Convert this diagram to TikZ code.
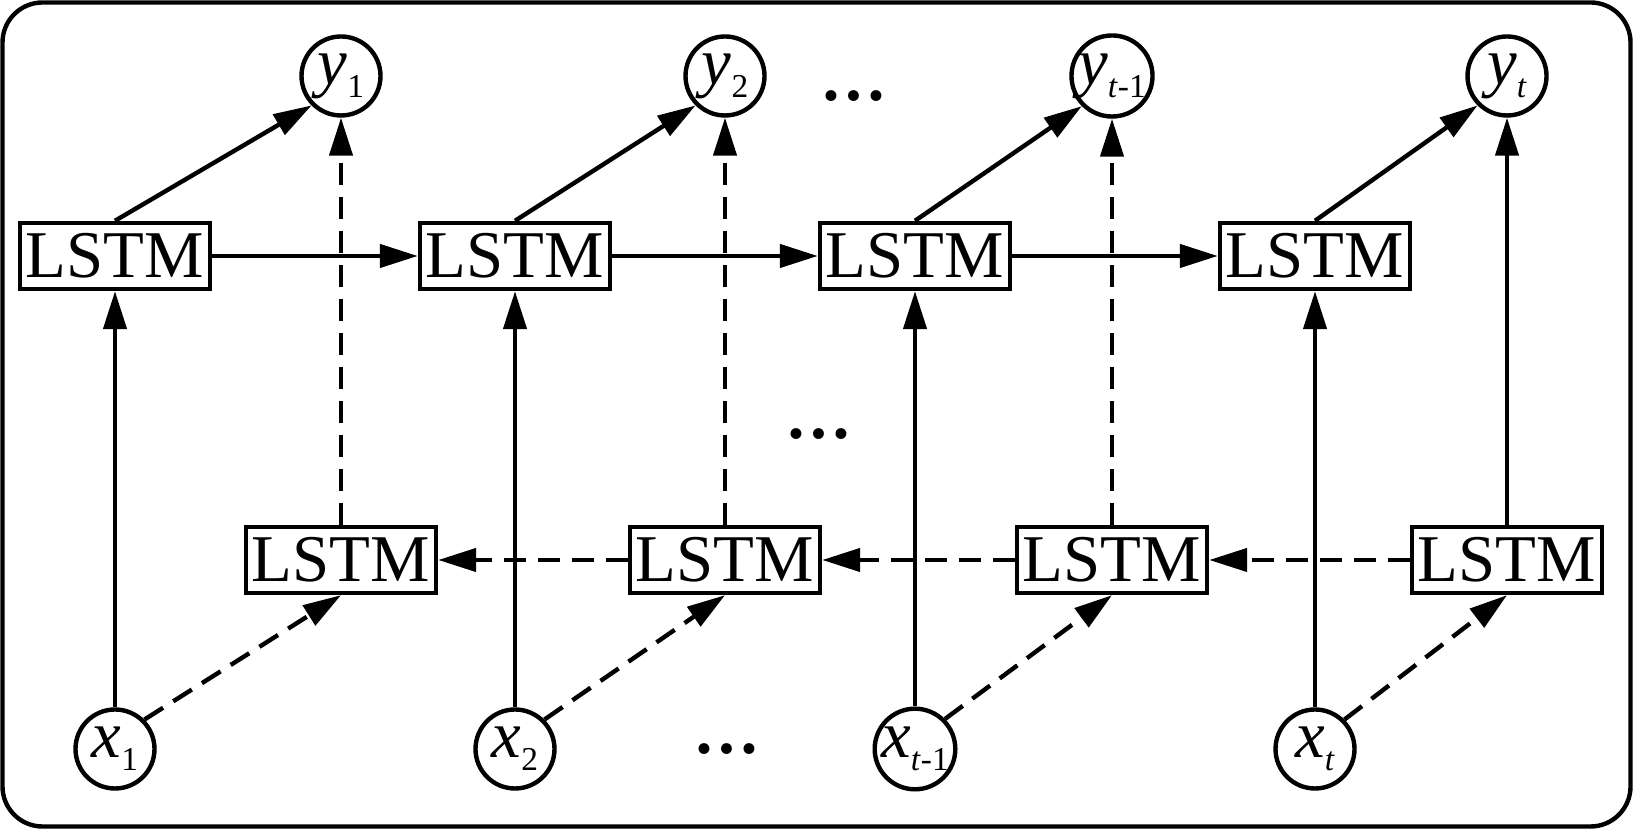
\documentclass[tikz,border=0pt]{standalone}
\usepackage{fontspec}
\setmainfont{Liberation Serif}
\usepackage{tikz}
\usetikzlibrary{arrows.meta}

\newcommand{\vlab}[2]{\textit{#1}\raisebox{-0.2em}{\fontsize{19}{19}\selectfont #2}}

\begin{document}
\begin{tikzpicture}[line width=2.5pt, >={Triangle[length=0.76cm, width=0.46cm]}, every node/.style={font=\fontsize{38}{40}\selectfont}, lstm/.style={draw, rectangle, inner sep=0pt, minimum width=3.8cm, minimum height=1.32cm}, unit/.style={draw, circle, inner sep=0pt, minimum size=1.58cm}, back/.style={dash pattern=on 0.44cm off 0.24cm}, etc/.style={font=\fontsize{38}{40}\selectfont\bfseries}]
	\useasboundingbox (0,0) rectangle (32.66,16.58);
	\draw[rounded corners=0.8cm] (0.05,0.05) rectangle (32.61,16.53);
	% forward layer
	\node[lstm] (f1) at (2.3,11.46) {LSTM};
	\node[lstm] (f2) at (10.3,11.46) {LSTM};
	\node[lstm] (f3) at (18.3,11.46) {LSTM};
	\node[lstm] (f4) at (26.3,11.46) {LSTM};
	% backward layer
	\node[lstm] (b1) at (6.82,5.38) {LSTM};
	\node[lstm] (b2) at (14.5,5.38) {LSTM};
	\node[lstm] (b3) at (22.24,5.38) {LSTM};
	\node[lstm] (b4) at (30.14,5.38) {LSTM};
	% inputs and outputs
	\node[unit] (x1) at (2.3,1.6) {\vlab{x}{1}};
	\node[unit] (x2) at (10.3,1.6) {\vlab{x}{2}};
	\node[unit] (x3) at (18.3,1.6) {\vlab{x}{\textit{t}-1}};
	\node[unit] (x4) at (26.3,1.6) {\vlab{x}{\textit{t}}};
	\node[unit] (y1) at (6.82,15.06) {\vlab{y}{1}};
	\node[unit] (y2) at (14.5,15.06) {\vlab{y}{2}};
	\node[unit] (y3) at (22.24,15.06) {\vlab{y}{\textit{t}-1}};
	\node[unit] (y4) at (30.14,15.06) {\vlab{y}{\textit{t}}};
	\node[etc] (dtop) at (17.08,14.66) {…};
	\node[etc] (dmid) at (16.38,7.9) {…};
	\node[etc] (dbot) at (14.54,1.6) {…};

	\draw[->] (x1) -- (f1);
	\draw[->] (x2) -- (f2);
	\draw[->] (x3) -- (f3);
	\draw[->] (x4) -- (f4);
	\draw[->, back] (x1.north east) -- (b1.south);
	\draw[->, back] (x2.north east) -- (b2.south);
	\draw[->, back] (x3.north east) -- (b3.south);
	\draw[->, back] (x4.north east) -- (b4.south);

	\draw[->] (f1) -- (f2);
	\draw[->] (f2) -- (f3);
	\draw[->] (f3) -- (f4);
	\draw[->, back] (b4) -- (b3);
	\draw[->, back] (b3) -- (b2);
	\draw[->, back] (b2) -- (b1);

	\draw[->] (f1.north) -- (y1.south west);
	\draw[->] (f2.north) -- (y2.south west);
	\draw[->] (f3.north) -- (y3.south west);
	\draw[->] (f4.north) -- (y4.south west);
	\draw[->, back] (b1) -- (y1);
	\draw[->, back] (b2) -- (y2);
	\draw[->, back] (b3) -- (y3);
	\draw[->] (b4) -- (y4);
\end{tikzpicture}
\end{document}
